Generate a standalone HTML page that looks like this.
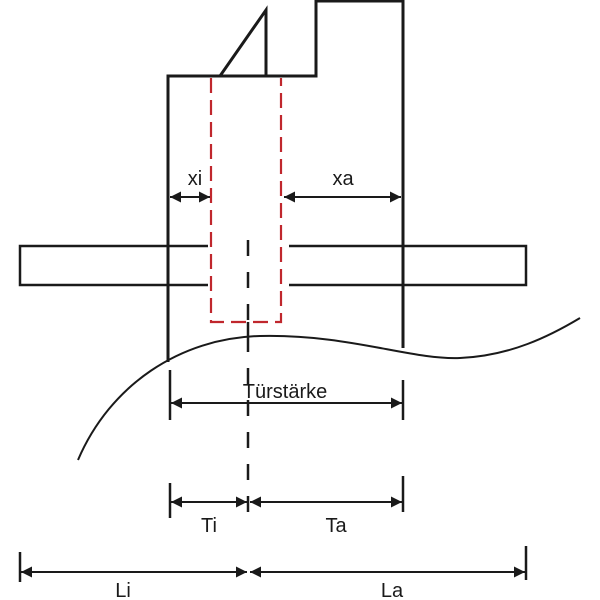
<!DOCTYPE html>
<html><head><style>body{margin:0;background:#fff}svg{display:block}</style></head><body>
<svg width="600" height="600" viewBox="0 0 600 600" xmlns="http://www.w3.org/2000/svg" font-family="Liberation Sans, sans-serif">
<defs>
<marker id="a" viewBox="0 0 10 10" refX="10" refY="5" markerWidth="16" markerHeight="11" orient="auto-start-reverse" markerUnits="userSpaceOnUse"><path d="M0,0 L10,5 L0,10 z" fill="#1a1a1a"/></marker>
</defs>
<g stroke="#1a1a1a" stroke-width="3" fill="none">
<path d="M168,362 V76 H316 V1 H403 V348"/>
<path d="M220,76 L266,10 V76"/>
</g>
<g stroke="#1a1a1a" stroke-width="2.5" fill="none">
<path d="M208,246 H20 V285 H208"/>
<path d="M289,246 H526 V285 H289"/>
<path d="M78,460 C110,385 180,338 260,336 C350,334 410,360 460,358 C510,356 550,336 580,318" stroke-width="2"/>
</g>
<g stroke="#c0272d" stroke-width="2.2" fill="none" stroke-dasharray="15,7">
<path d="M211,78 V322 H281 V78"/>
</g>
<g stroke="#1a1a1a" stroke-width="2.5" fill="none">
<path d="M248,240 V512" stroke-dasharray="16,16"/>
<path d="M248,322 V336"/>
<path d="M170,370 V420 M403,380 V420 M170,483 V518 M403,476 V512 M20,552 V582 M526,546 V580"/>
</g>
<g stroke="#1a1a1a" stroke-width="2" marker-start="url(#a)" marker-end="url(#a)">
<line x1="170" y1="197" x2="210" y2="197"/>
<line x1="284" y1="197" x2="401" y2="197"/>
<line x1="171" y1="403" x2="402" y2="403"/>
<line x1="171" y1="502" x2="247" y2="502"/>
<line x1="250" y1="502" x2="402" y2="502"/>
<line x1="21" y1="572" x2="247" y2="572"/>
<line x1="250" y1="572" x2="525" y2="572"/>
</g>
<g fill="#1a1a1a" font-size="20">
<text x="195" y="185" text-anchor="middle">xi</text>
<text x="343" y="185" text-anchor="middle">xa</text>
<text x="285" y="398" text-anchor="middle">Türstärke</text>
<text x="209" y="532" text-anchor="middle">Ti</text>
<text x="336" y="532" text-anchor="middle">Ta</text>
<text x="123" y="597" text-anchor="middle">Li</text>
<text x="392" y="597" text-anchor="middle">La</text>
</g>
</svg>
</body></html>
